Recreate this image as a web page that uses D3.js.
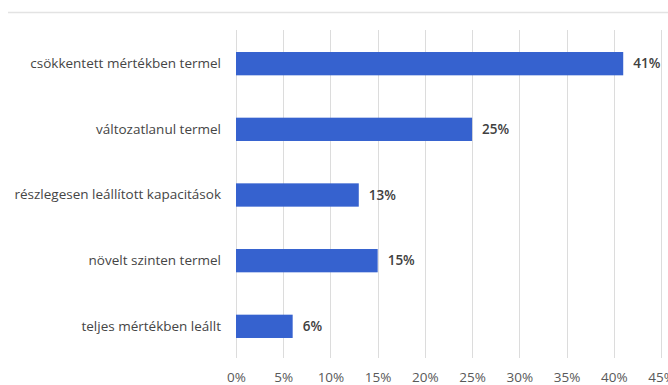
<!DOCTYPE html>
<html>
<head>
<meta charset="utf-8">
<script src="https://cdn.jsdelivr.net/npm/d3@7"></script>
<style>
  html, body { margin: 0; padding: 0; background: #ffffff; }
  svg { display: block; }
</style>
</head>
<body>
<svg id="chart" width="668" height="385"></svg>
<script>
// Categories, top to bottom
const categories = [
  "csökkentett mértékben termel",
  "változatlanul termel",
  "részlegesen leállított kapacitások",
  "növelt szinten termel",
  "teljes mértékben leállt"
];
// Share of respondents (%)
const values = [41, 25, 13, 15, 6];
// Axis ticks (%)
const tickValues = [0, 5, 10, 15, 20, 25, 30, 35, 40, 45];

const svg = d3.select("#chart");
const font = "'Open Sans', 'Liberation Sans', sans-serif";
const fs = 13.5;

const x = d3.scaleLinear().domain([0, 45]).range([236, 661]);
const y = d3.scaleBand().domain(categories).range([31, 359]).paddingInner(0.645).paddingOuter(0.32);

// top rule
svg.append("line")
  .attr("x1", 8).attr("x2", 668)
  .attr("y1", 12.5).attr("y2", 12.5)
  .attr("stroke", "#e3e3e3").attr("stroke-width", 1.5);

// vertical gridlines
svg.append("g")
  .selectAll("line")
  .data(tickValues)
  .join("line")
  .attr("x1", d => Math.round(x(d)) + 0.5)
  .attr("x2", d => Math.round(x(d)) + 0.5)
  .attr("y1", 30).attr("y2", 358)
  .attr("stroke", "#dcdcdc").attr("stroke-width", 1);

// x axis labels
const xAxis = d3.axisBottom(x).tickValues(tickValues).tickFormat(d => d + "%").tickSize(0).tickPadding(0);
const gx = svg.append("g").attr("transform", "translate(0,372)").call(xAxis);
gx.select(".domain").remove();
gx.selectAll("text")
  .attr("font-family", font).attr("font-size", fs).attr("fill", "#595959");

// category labels
const yAxis = d3.axisLeft(y).tickSize(0).tickPadding(0);
const gy = svg.append("g").attr("transform", "translate(221,0)").call(yAxis);
gy.select(".domain").remove();
gy.selectAll("text")
  .attr("font-family", font).attr("font-size", fs).attr("fill", "#454545");

// bars
svg.append("g")
  .selectAll("rect")
  .data(categories)
  .join("rect")
  .attr("x", x(0))
  .attr("y", d => y(d))
  .attr("width", (d, i) => x(values[i]) - x(0))
  .attr("height", y.bandwidth())
  .attr("fill", "#3662cf");

// value labels
svg.append("g")
  .selectAll("text")
  .data(categories)
  .join("text")
  .attr("x", (d, i) => x(values[i]) + 10)
  .attr("y", d => y(d) + y.bandwidth() / 2)
  .attr("dy", "0.35em")
  .attr("font-family", font).attr("font-size", fs).attr("font-weight", 600)
  .attr("fill", "#404040")
  .text((d, i) => values[i] + "%");
</script>
</body>
</html>
